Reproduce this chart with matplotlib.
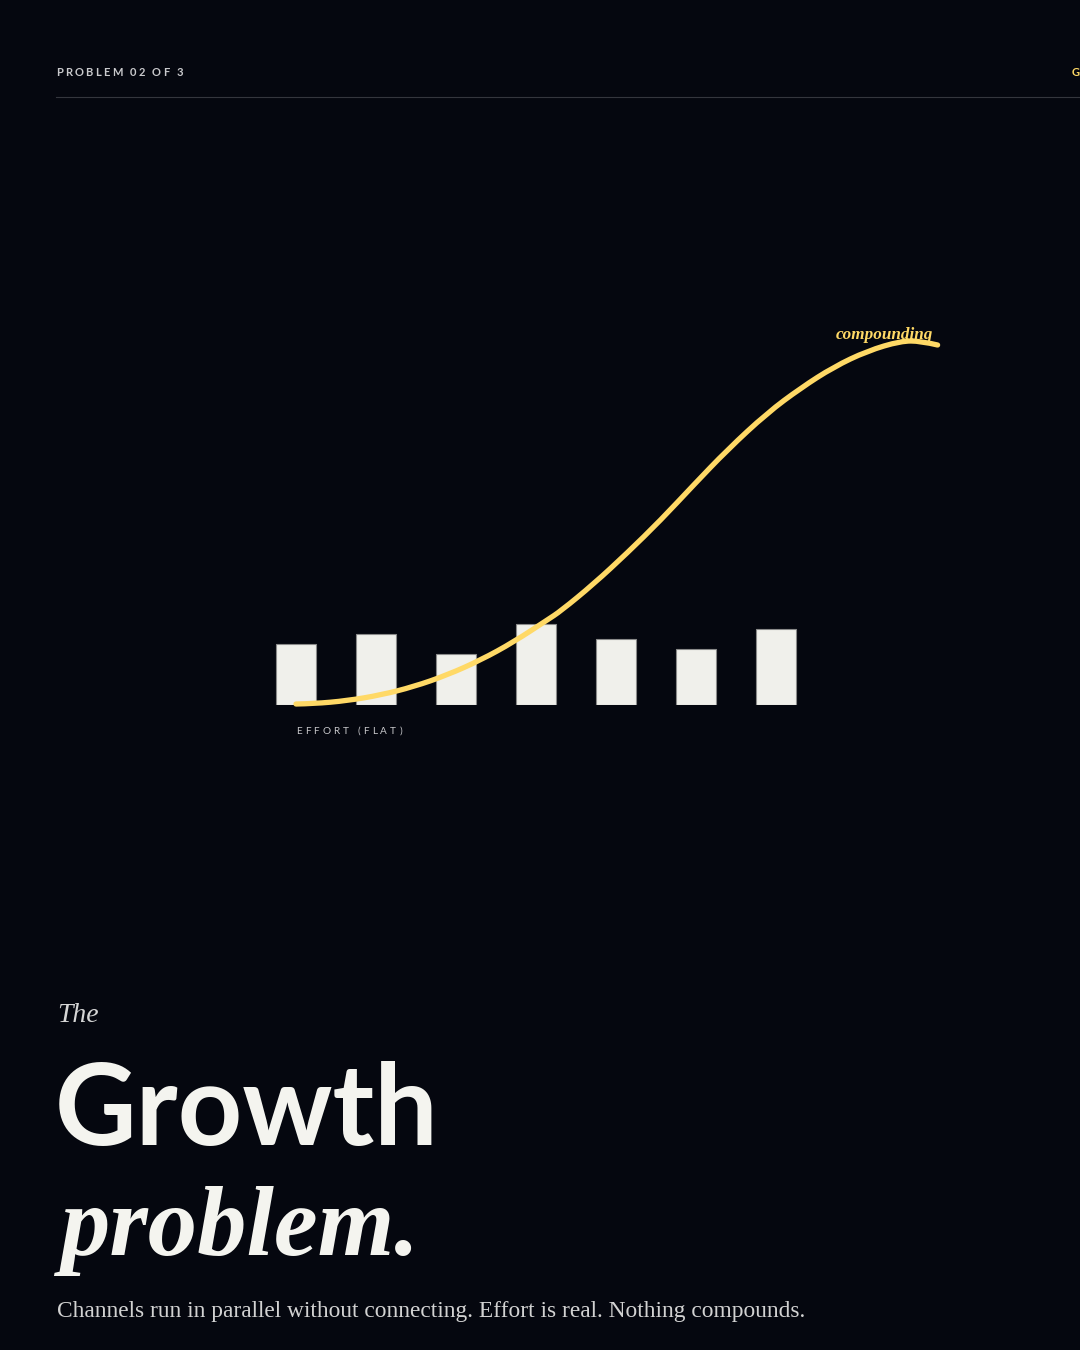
import matplotlib
matplotlib.use("Agg")
import matplotlib.pyplot as plt
from matplotlib.font_manager import FontProperties
from matplotlib.path import Path
from matplotlib.patches import PathPatch

# ---------------- data ----------------
bar_index = [0, 1, 2, 3, 4, 5, 6]
effort_values = [61, 71, 51, 81, 66, 56, 76]          # flat effort bars
curve_x = [0.0, 0.22, 0.64, 1.06, 1.47, 1.89, 2.31, 2.72, 3.14, 3.31, 3.72,
           4.14, 4.56, 4.97, 5.39, 5.89, 6.31, 6.72, 7.14, 7.56, 7.81, 8.02]
curve_y = [1, 1.3, 4.3, 10, 18.3, 30, 45, 63, 85, 94, 121,
           152, 185, 220, 255, 292, 317, 338, 354, 364, 364, 360]
header_left = "PROBLEM 02 OF 3"
header_right = "G"
curve_label = "compounding"
bar_label = "EFFORT (FLAT)"
title_small = "The"
title_big = "Growth"
title_italic = "problem."
subtitle = "Channels run in parallel without connecting. Effort is real. Nothing compounds."

# ---------------- style ----------------
W, H, DPI = 1080, 1350, 100
BG = "#05070f"
YELLOW = "#ffd966"
BAR_FILL = "#f0f0eb"
BAR_EDGE = "#8a8a8a"
SANS = ["Lato", "DejaVu Sans"]
SERIF = ["Liberation Serif", "DejaVu Serif"]

fig = plt.figure(figsize=(W / DPI, H / DPI), dpi=DPI, facecolor=BG)
renderer = fig.canvas.get_renderer()


def fx(px):
    return px / W


def fy(py):
    return 1 - py / H


def tracked(x_px, y_px, s, size, color, weight, target_w):
    prop = FontProperties(family=SANS, size=size, weight=weight)
    widths = [renderer.get_text_width_height_descent(c, prop, ismath=False)[0] for c in s]
    track = (target_w - sum(widths)) / (len(s) - 1)
    x = x_px
    for c, w in zip(s, widths):
        fig.text(fx(x), fy(y_px), c, fontproperties=prop, color=color,
                 ha="left", va="center")
        x += w + track


# header
tracked(56, 72, header_left, 8, "#c9c9cc", "bold", 127)
fig.text(fx(1079.5), fy(72), header_right,
         fontproperties=FontProperties(family=SANS, size=8, weight="bold"),
         color=YELLOW, ha="right", va="center")
fig.add_artist(plt.Line2D([fx(56), fx(1080)], [fy(96.5), fy(96.5)], color="#34363d", lw=0.8))

# chart axes: bar i centred at 296 + 80*i px, y=0 at 705 px, 1 unit = 1 px
ax = fig.add_axes([fx(216), fy(705), 800 / W, 400 / H])
ax.set_xlim(-1, 9)
ax.set_ylim(0, 400)
ax.axis("off")
ax.bar(bar_index, effort_values, width=0.51, color=BAR_FILL, edgecolor=BAR_EDGE,
       linewidth=0.8, zorder=2)

# smooth curve through the read points (quadratic B-spline via path codes)
pts = list(zip(curve_x, curve_y))
verts = [pts[0]]
codes = [Path.MOVETO]
for i in range(1, len(pts) - 1):
    mid = ((pts[i][0] + pts[i + 1][0]) / 2, (pts[i][1] + pts[i + 1][1]) / 2)
    if i == len(pts) - 2:
        mid = pts[-1]
    verts += [pts[i], mid]
    codes += [Path.CURVE3, Path.CURVE3]
curve = PathPatch(Path(verts, codes), facecolor="none", edgecolor=YELLOW, lw=3.8,
                  capstyle="round", joinstyle="round", zorder=3, clip_on=False)
ax.add_patch(curve)
ax.text(7.36, 366, curve_label, color=YELLOW, ha="center", va="baseline",
        fontsize=12.3, family=SERIF, style="italic", weight="bold", zorder=4)

tracked(296, 731, bar_label, 7.2, "#c9c9cc", "normal", 106)

# titles
fig.text(fx(57), fy(1015), title_small, color="#d6d6d6", fontsize=20, family=SERIF,
         style="italic", ha="left", va="center")
fig.text(fx(55), fy(1145), title_big, color="#f4f4ef", fontsize=81, family=SANS,
         weight="bold", ha="left", va="baseline")
fig.text(fx(60), fy(1255), title_italic, color="#f4f4ef", fontsize=71, family=SERIF,
         style="italic", weight="bold", ha="left", va="baseline")
fig.text(fx(57), fy(1312), subtitle, color="#d2d2d2", fontsize=16.8, family=SERIF,
         ha="left", va="center")

fig.savefig("out.png", dpi=DPI, facecolor=BG)
